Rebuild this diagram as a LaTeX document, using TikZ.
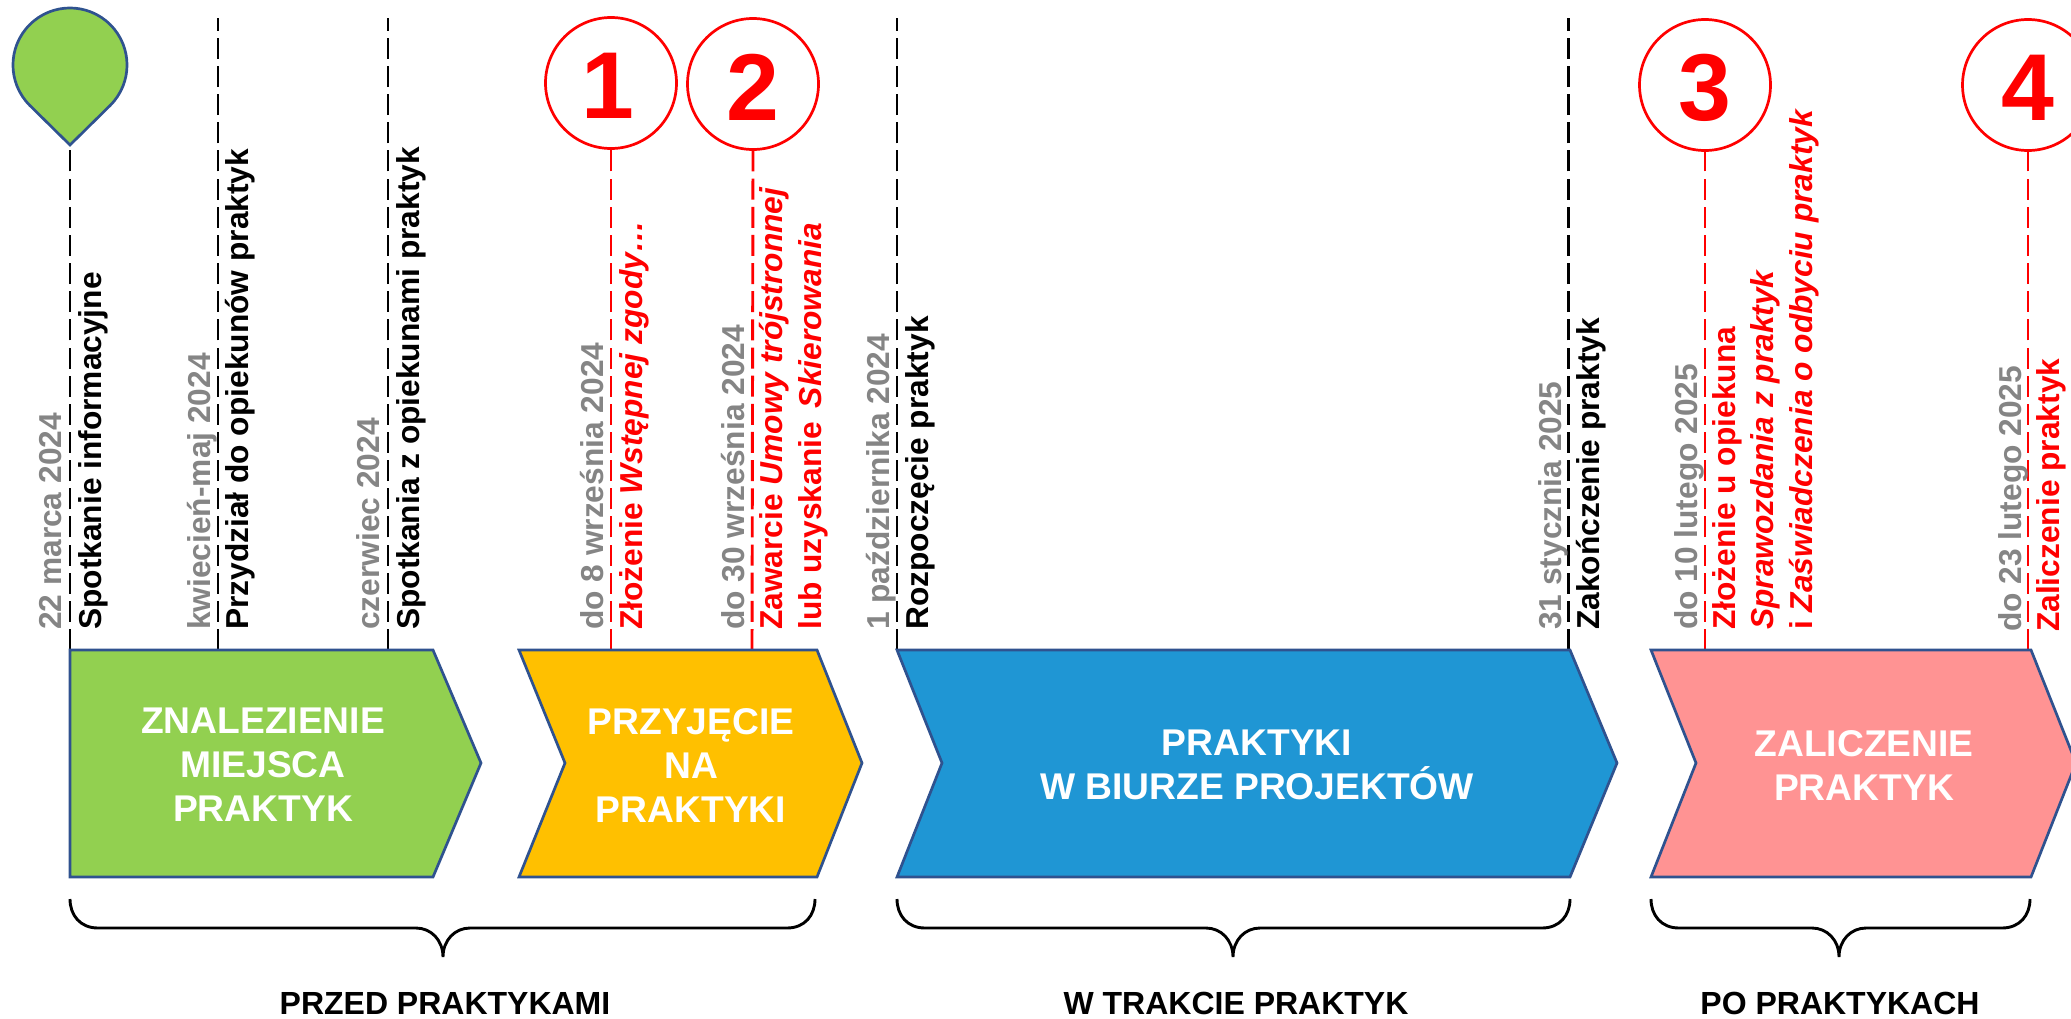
\documentclass[tikz,border=0pt]{standalone}
\usepackage{fontspec}
\setmainfont{Liberation Sans}
\usetikzlibrary{shapes.geometric}
\definecolor{cgreen}{HTML}{92D050}
\definecolor{cyellow}{HTML}{FFC000}
\definecolor{cblue}{HTML}{1F96D4}
\definecolor{cpink}{HTML}{FF9393}
\definecolor{cedge}{HTML}{2F528F}
\definecolor{cgrey}{HTML}{858585}
\definecolor{cred}{HTML}{FF0000}
\newcommand{\numlabel}[1]{\raisebox{-2.5pt}[0pt][0pt]{\makebox[0pt]{#1}}}
\tikzset{
  shapebox/.style={draw=cedge,line width=2.7pt,line join=miter},
  dashblack/.style={draw=black,line width=2.9pt,dash pattern=on 21pt off 7.15pt},
  dashred/.style={draw=cred,line width=2.9pt,dash pattern=on 21pt off 7.15pt},
  vtext/.style={rotate=90,anchor=base west,inner sep=0pt,font=\fontsize{31.7}{38}\selectfont\bfseries},
  datetext/.style={vtext,text=cgrey},
  eventtext/.style={vtext,text=black},
  dutytext/.style={vtext,text=cred},
  numcircle/.style={circle,draw=cred,line width=2.7pt,fill=white,minimum size=131pt,inner sep=0pt,text=cred,font=\fontsize{95}{95}\selectfont\bfseries},
  numtext/.style={inner sep=0pt,text=cred,font=\fontsize{95}{95}\selectfont\bfseries},
  phasetext/.style={align=center,text=white,inner sep=0pt,font=\fontsize{37.2}{44}\selectfont\bfseries},
  grouptext/.style={text=black,inner sep=0pt,font=\fontsize{32}{38}\selectfont\bfseries},
  bracket/.style={draw=black,line width=2.9pt}
}
\newcommand{\groupbrace}[4]{% left, centre, right, name
  \coordinate (#4) at (#2,957);
  \draw[bracket] (#1,899) .. controls (#1,915) and (#1+10,928) .. (#1+28,928)
    -- (#2-27,928) .. controls (#2-12,928) and (#2,940) .. (#4)
    .. controls (#2,940) and (#2+12,928) .. (#2+27,928)
    -- (#3-28,928) .. controls (#3-10,928) and (#3,915) .. (#3,899);
}
\begin{document}
\begin{tikzpicture}[x=1pt,y=-1pt]
\useasboundingbox (0,0) rectangle (2071,1018);
\clip (0,0) rectangle (2071,1018);

% connector end points on the top edges of the phases
\coordinate (pintip) at (70,145);
\coordinate (t0) at (70,650);
\coordinate (a2) at (218,18);  \coordinate (t2) at (218,650);
\coordinate (a3) at (388,18);  \coordinate (t3) at (388,650);
\coordinate (a5) at (897,18);  \coordinate (t5) at (897,650);
\coordinate (a6) at (1568.5,18); \coordinate (t6) at (1568.5,650);
\coordinate (t1) at (611,650);
\coordinate (tb) at (752,650);
\coordinate (t7) at (1705,650);
\coordinate (t8) at (2028,650);

% numbered circles
\node[numcircle] (c1) at (611,83) {};
\node[numcircle] (c2) at (753,84) {};
\node[numcircle] (c3) at (1705,85) {};
\node[numcircle] (c4) at (2028,85) {};
\node[numtext] (n1) at (608,86) {1};
\node[numtext] (n2) at (753,87) {2};
\node[numtext] (n3) at (1705,88) {3};
\node[numtext] (n4) at (2028,88) {4};

% dashed lines
\draw[dashblack] (t0) -- (pintip);
\draw[dashblack] (t2) -- (a2);
\draw[dashblack] (t3) -- (a3);
\draw[dashblack] (t5) -- (a5);
\draw[dashblack] (t6) -- (a6);
\draw[dashred] (t1) -- (c1.south);
\draw[dashred] (tb) -- (c2.south);
\draw[dashred] (t7) -- (c3.south);
\draw[dashred] (t8) -- (c4.south);

% pin
\draw[shapebox,fill=cgreen] (pintip) -- (29.7,105.3)
  .. controls (7.4,83) and (7.4,47) .. (29.7,24.7)
  .. controls (52,2.4) and (88,2.4) .. (110.3,24.7)
  .. controls (132.6,47) and (132.6,83) .. (110.3,105.3) -- cycle;

% phases
\draw[shapebox,fill=cgreen] (70,650) -- (433,650) -- (481,763) -- (433,877) -- (70,877) -- cycle;
\draw[shapebox,fill=cyellow] (519,650) -- (817,650) -- (862,763) -- (817,877) -- (519,877) -- (565,763) -- cycle;
\draw[shapebox,fill=cblue] (897,650) -- (1570,650) -- (1617,763) -- (1570,877) -- (897,877) -- (942,763) -- cycle;
\draw[shapebox,fill=cpink] (1651,650) -- (2031,650) -- (2076,763) -- (2031,877) -- (1651,877) -- (1696,763) -- cycle;

\node[phasetext] (p1) at (263,765) {ZNALEZIENIE\\MIEJSCA\\PRAKTYK};
\node[phasetext] (p2) at (691,765) {PRZYJĘCIE\\NA\\PRAKTYKI};
\node[phasetext] (p3) at (1257,765) {PRAKTYKI\\W BIURZE PROJEKTÓW};
\node[phasetext] (p4) at (1864,765) {ZALICZENIE\\PRAKTYK};

% vertical texts
\node[datetext] (d1) at (61,630) {22 marca 2024};
\node[eventtext] (e1) at (101,630) {Spotkanie informacyjne};
\node[datetext] (d2) at (210,630) {kwiecień-maj 2024};
\node[eventtext] (e2) at (248,630) {Przydział do opiekunów praktyk};
\node[datetext] (d3) at (379,630) {czerwiec 2024};
\node[eventtext] (e3) at (419,630) {Spotkania z opiekunami praktyk};
\node[datetext] (d4) at (603,630) {do 8 września 2024};
\node[dutytext] (e4) at (642,630) {Złożenie \textit{Wstępnej zgody…}};
\node[datetext] (d5) at (744,630) {do 30 września 2024};
\node[dutytext] (e5) at (782,630) {Zawarcie \textit{Umowy trójstronnej}};
\node[dutytext] (e5b) at (821,630) {lub uzyskanie\hspace{5pt} \textit{Skierowania}};
\node[datetext] (d6) at (889,630) {1 października 2024};
\node[eventtext] (e6) at (928,630) {Rozpoczęcie praktyk};
\node[datetext] (d7) at (1561,630) {31 stycznia 2025};
\node[eventtext] (e7) at (1599,630) {Zakończenie praktyk};
\node[datetext] (d8) at (1697,630) {do 10 lutego 2025};
\node[dutytext] (e8) at (1735,630) {Złożenie u opiekuna};
\node[dutytext] (e8b) at (1773,630) {\textit{Sprawozdania z praktyk}};
\node[dutytext] (e8c) at (1812,630) {i \textit{Zaświadczenia o odbyciu praktyk}};
\node[datetext] (d9) at (2021,632) {do 23 lutego 2025};
\node[dutytext] (e9) at (2059,632) {Zaliczenie praktyk};

% braces
\groupbrace{70}{443}{815}{b1}
\groupbrace{897}{1233}{1570}{b2}
\groupbrace{1651}{1839}{2030}{b3}

\node[grouptext] (g1) at (445,1003) {PRZED PRAKTYKAMI};
\node[grouptext] (g2) at (1236,1003) {W TRAKCIE PRAKTYK};
\node[grouptext] (g3) at (1840,1003) {PO PRAKTYKACH};
\end{tikzpicture}
\end{document}
